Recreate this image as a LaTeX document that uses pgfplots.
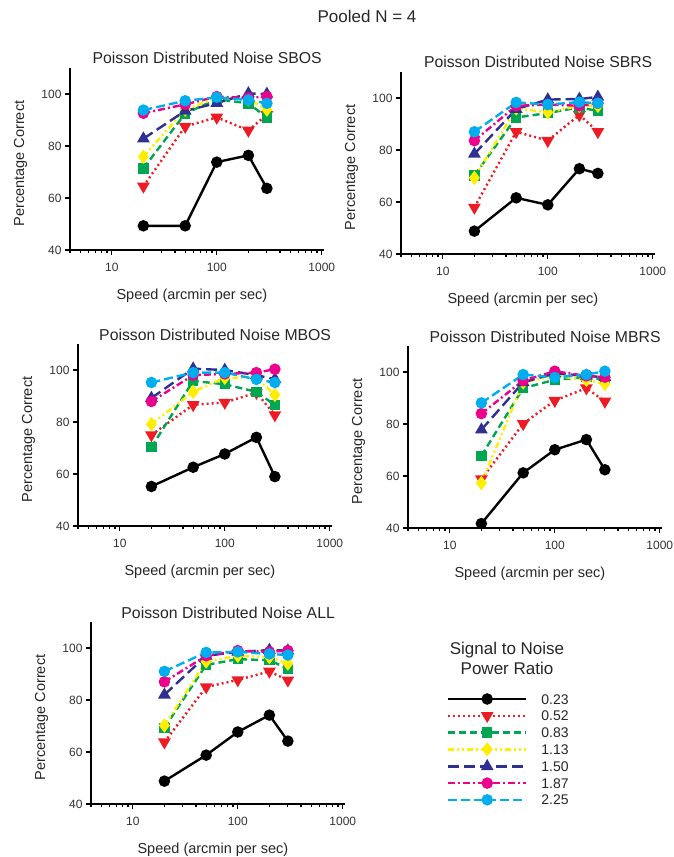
\documentclass[border=0pt]{standalone}
\usepackage{fontspec}
\setmainfont{Liberation Sans}
\usepackage{pgfplots}
\usepackage{pgfplotstable}
\pgfplotsset{compat=1.18}
\definecolor{cred}{HTML}{ED1C24}
\definecolor{cgreen}{HTML}{00A651}
\definecolor{cyellow}{HTML}{FFEE00}
\definecolor{cnavy}{HTML}{2E3192}
\definecolor{cmag}{HTML}{EC008C}
\definecolor{ccyan}{HTML}{00AEEF}

% columns: a=0.23 b=0.52 c=0.83 d=1.13 e=1.50 f=1.87 g=2.25
\pgfplotstableread{
x a b c d e f g
20 49.3 64.5 71.4 75.9 82.8 92.6 93.8
50 49.3 87.5 92.5 94.0 93.5 96.0 97.4
100 73.8 91.0 98.0 98.5 96.5 99.0 98.7
200 76.4 86.0 96.4 98.0 100.2 98.5 97.7
300 63.7 92.0 91.0 94.0 100.0 99.0 96.4
}\tSBOS
\pgfplotstableread{
x a b c d e f g
20 48.8 57.9 70.2 69.3 78.5 83.6 87.0
50 61.6 87.0 92.5 96.0 95.7 97.0 98.3
100 58.9 83.6 94.2 94.5 99.4 97.5 97.5
200 72.8 93.5 96.4 97.0 99.6 97.0 98.4
300 71.0 87.0 95.0 97.0 100.4 98.0 98.0
}\tSBRS
\pgfplotstableread{
x a b c d e f g
20 55.2 75.0 70.3 79.2 89.2 87.9 95.2
50 62.6 86.6 95.8 91.6 100.5 98.0 99.0
100 67.7 87.5 94.5 97.0 100.0 98.5 99.0
200 74.1 91.3 91.6 97.0 98.0 99.0 96.4
300 59.0 82.7 86.5 90.4 96.5 100.3 95.2
}\tMBOS
\pgfplotstableread{
x a b c d e f g
20 41.7 58.8 67.8 57.3 77.8 84.0 88.1
50 61.2 80.1 93.8 96.0 96.0 96.7 99.0
100 70.1 89.0 97.0 98.5 99.5 100.3 97.9
200 74.0 93.8 98.0 97.0 98.5 98.5 99.0
300 62.4 88.7 97.0 95.4 98.0 98.0 100.3
}\tMBRS
\pgfplotstableread{
x a b c d e f g
20 48.8 63.8 69.3 70.2 82.0 87.0 91.0
50 58.8 85.0 93.5 94.8 97.0 97.0 98.3
100 67.7 87.7 95.7 97.0 98.5 99.0 98.5
200 74.2 91.0 95.3 96.5 99.2 98.5 97.7
300 64.2 87.6 92.0 94.0 99.0 99.0 97.3
}\tALL

\pgfplotsset{
  scale only axis, width=254pt, height=182pt,
  xmin=4, xmax=1050, ymin=40, ymax=110,
  axis x line*=bottom, axis y line*=left,
  axis line style={line width=2pt},
  tick align=outside,
  major tick length=5pt, minor tick length=3pt,
  tick style={black, line width=1.2pt},
  tick label style={font=\fontsize{12}{14}\selectfont, text=black!80},
  xticklabel style={yshift=-5pt},
  label style={font=\fontsize{14.5}{17}\selectfont, text=black!85},
  title style={font=\fontsize{15.8}{18}\selectfont, text=black!85, at={(axis description cs:0.54,0.989)}, anchor=base},
  xlabel style={at={(axis description cs:0.48,-0.27)}, anchor=base},
  ylabel style={at={(axis description cs:-0.181,0.475)}, anchor=base},
  ser1/.style={black, line width=2.4pt, solid, mark=*, mark size=4.5pt, mark options={solid, fill=black}},
  ser2/.style={cred, line width=2.4pt, dash pattern=on 2pt off 3pt, mark=triangle*, mark size=5pt, mark options={solid, rotate=180, fill=cred}},
  ser3/.style={cgreen, line width=2.4pt, dash pattern=on 7pt off 4pt, mark=square*, mark size=4pt, mark options={solid, fill=cgreen}},
  ser4/.style={cyellow, line width=2.4pt, dash pattern=on 6pt off 3pt on 2pt off 3pt on 2pt off 3pt, mark=diamond*, mark size=5.3pt, mark options={solid, fill=cyellow}},
  ser5/.style={cnavy, line width=2.4pt, dash pattern=on 11pt off 5pt, mark=triangle*, mark size=5pt, mark options={solid, fill=cnavy}},
  ser6/.style={cmag, line width=2.4pt, dash pattern=on 7pt off 3pt on 2pt off 3pt, mark=*, mark size=4.5pt, mark options={solid, fill=cmag}},
  ser7/.style={ccyan, line width=2.4pt, dash pattern=on 9pt off 4pt, mark=*, mark size=4.5pt, mark options={solid, fill=ccyan}},
}

\newcommand{\allseries}[1]{%
  \addplot[ser1] table[x=x,y=a]{#1};
  \addplot[ser2] table[x=x,y=b]{#1};
  \addplot[ser3] table[x=x,y=c]{#1};
  \addplot[ser4] table[x=x,y=d]{#1};
  \addplot[ser5] table[x=x,y=e]{#1};
  \addplot[ser6] table[x=x,y=f]{#1};
  \addplot[ser7] table[x=x,y=g]{#1};
}

\begin{document}
\begin{tikzpicture}
\path[use as bounding box] (0,0) rectangle (673pt,857pt);
\node[anchor=base, font=\fontsize{17}{20}\selectfont, text=black!85] at (367pt,834pt) {Pooled N = 4};

\begin{axis}[xmode=log, at={(70pt,607pt)}, anchor=south west,
  xtick={10,100,1000}, xticklabels={10,100,1000},
  minor xtick={4,5,6,7,8,9,20,30,40,50,60,70,80,90,200,300,400,500,600,700,800,900},
  ytick={40,60,80,100}, yticklabels={40,60,80,100},
  xlabel={Speed (arcmin per sec)}, ylabel={Percentage Correct}, clip=false,
  title={Poisson Distributed Noise SBOS}]
\allseries{\tSBOS}
\end{axis}

\begin{axis}[xmode=log, at={(401pt,603pt)}, anchor=south west,
  xtick={10,100,1000}, xticklabels={10,100,1000},
  minor xtick={4,5,6,7,8,9,20,30,40,50,60,70,80,90,200,300,400,500,600,700,800,900},
  ytick={40,60,80,100}, yticklabels={40,60,80,100},
  xlabel={Speed (arcmin per sec)}, ylabel={Percentage Correct}, clip=false,
  title={Poisson Distributed Noise SBRS}]
\allseries{\tSBRS}
\end{axis}

\begin{axis}[xmode=log, at={(78pt,331pt)}, anchor=south west,
  xtick={10,100,1000}, xticklabels={10,100,1000},
  minor xtick={4,5,6,7,8,9,20,30,40,50,60,70,80,90,200,300,400,500,600,700,800,900},
  ytick={40,60,80,100}, yticklabels={40,60,80,100},
  xlabel={Speed (arcmin per sec)}, ylabel={Percentage Correct}, clip=false,
  title={Poisson Distributed Noise MBOS}]
\allseries{\tMBOS}
\end{axis}

\begin{axis}[xmode=log, at={(408pt,329pt)}, anchor=south west,
  xtick={10,100,1000}, xticklabels={10,100,1000},
  minor xtick={4,5,6,7,8,9,20,30,40,50,60,70,80,90,200,300,400,500,600,700,800,900},
  ytick={40,60,80,100}, yticklabels={40,60,80,100},
  xlabel={Speed (arcmin per sec)}, ylabel={Percentage Correct}, clip=false,
  title={Poisson Distributed Noise MBRS}]
\allseries{\tMBRS}
\end{axis}

\begin{axis}[xmode=log, at={(91pt,53pt)}, anchor=south west,
  xtick={10,100,1000}, xticklabels={10,100,1000},
  minor xtick={4,5,6,7,8,9,20,30,40,50,60,70,80,90,200,300,400,500,600,700,800,900},
  ytick={40,60,80,100}, yticklabels={40,60,80,100},
  xlabel={Speed (arcmin per sec)}, ylabel={Percentage Correct}, clip=false,
  title={Poisson Distributed Noise ALL},
  legend image code/.code={\draw[mark repeat=2,mark phase=2,#1] plot coordinates {(0pt,0pt)(39pt,0pt)(78pt,0pt)};},
  legend entries={0.23,0.52,0.83,1.13,1.50,1.87,2.25},
  legend cell align=left,
  legend style={at={(axis description cs:1.4016,0.6044)}, anchor=north west, draw=none, fill=none,
    inner sep=0pt, outer sep=0pt, row sep=6.7pt, column sep=14pt,
    nodes={inner sep=0pt, text height=10pt, text depth=0pt, font=\fontsize{14}{16}\selectfont, text=black!85}},
]
\allseries{\tALL}
\end{axis}

\node[anchor=base, font=\fontsize{17}{20}\selectfont, text=black!85] at (507pt,202pt) {Signal to Noise};
\node[anchor=base, font=\fontsize{17}{20}\selectfont, text=black!85] at (507pt,182.5pt) {Power Ratio};
\end{tikzpicture}
\end{document}
